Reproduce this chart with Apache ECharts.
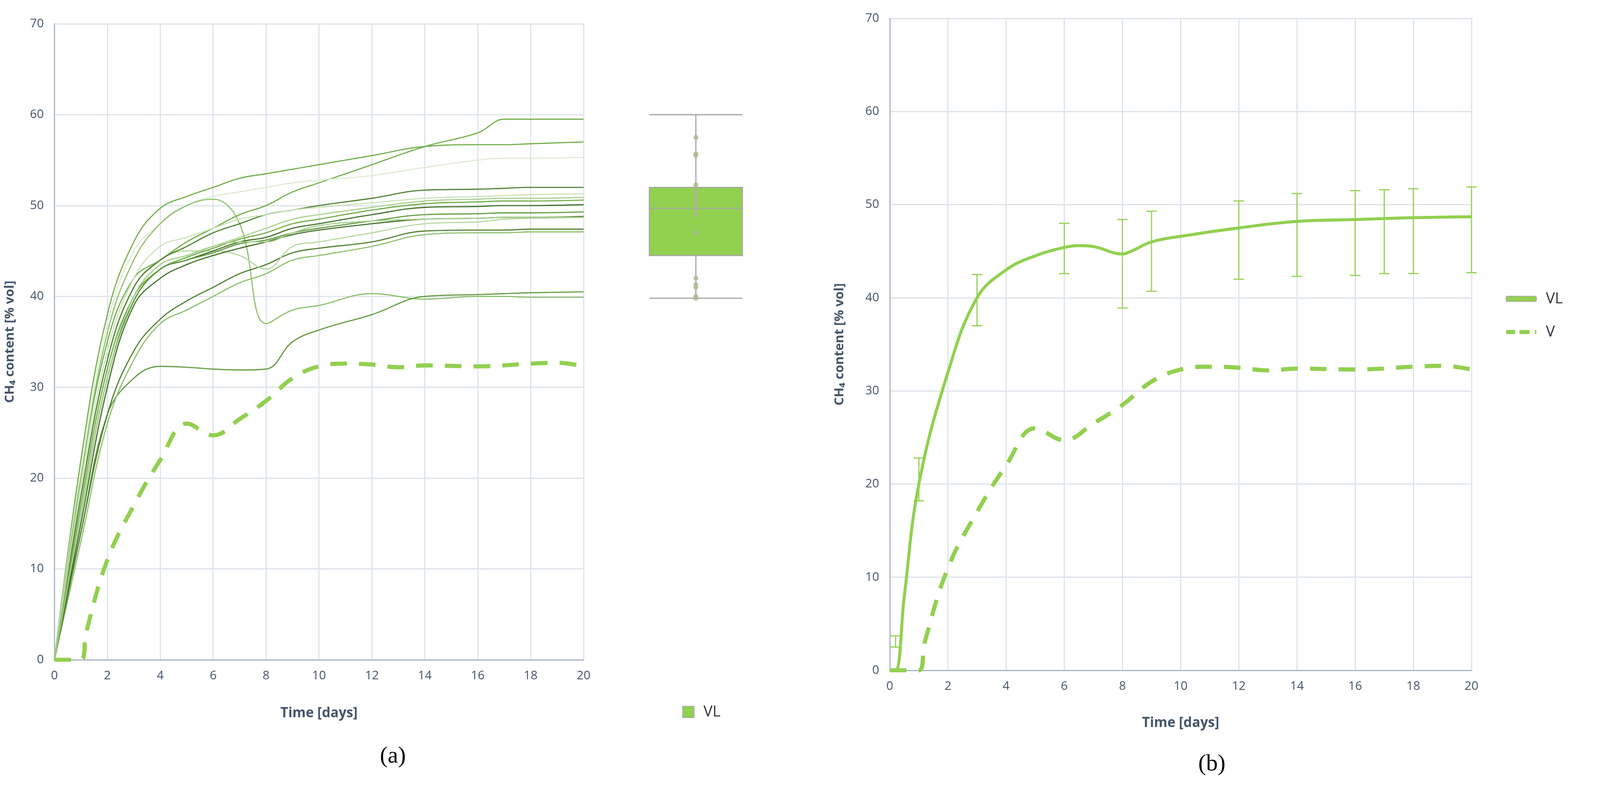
<!DOCTYPE html>
<html><head><meta charset="utf-8">
<script src="https://cdn.jsdelivr.net/npm/echarts@6/dist/echarts.min.js"></script>
<style>html,body{margin:0;padding:0;background:#fff;overflow:hidden}#c{width:100vw;height:100vh}</style>
</head><body><div id="c"></div>
<script>
const daysA = [0,1,2,3,4,5,6,7,8,9,10,12,14,16,17,18,20];
const curvesA = [
 {v:[0,20,35,42,44,46,47.5,49,50,51.5,52.5,54.5,56.5,58,59.5,59.5,59.5], c:'#70AD47'},
 {v:[0,22,38,46,49.7,51,52,53,53.5,54,54.5,55.5,56.5,56.7,56.7,56.8,57], c:'#70AD47'},
 {v:[0,21,37,45,48,50,51,51.5,52,52.5,52.8,53.3,54.2,55,55.2,55.2,55.3], c:'#DDEBD3'},
 {v:[0,20,36,44,48,50,50.7,48,37,38.5,39,40.3,39.7,40,40,39.9,39.9], c:'#8DBF6A'},
 {v:[0,14,27,31,32.3,32.2,32,31.9,32,35,36.3,38,40,40.2,40.3,40.4,40.5], c:'#5E9A3A'},
 {v:[0,13,26,33,37,38.5,40,41.5,42.5,44,44.5,45.5,46.8,47,47,47.1,47.1], c:'#8DBF6A'},
 {v:[0,14,27,34,37.5,39.5,41,42.5,43.5,44.8,45.3,46,47.2,47.3,47.3,47.4,47.4], c:'#4E7F2E'},
 {v:[0,18,33,41,44,45,45,44.5,43,45.5,46,47,48,48.2,48.5,48.6,48.7], c:'#B5D8A0'},
 {v:[0,18,33,41,44,45.5,47,48,49,49.5,50,50.8,51.7,51.8,51.9,52,52], c:'#4E7F2E'},
 {v:[0,19,34,42,45.5,46.5,47.5,48.5,49,49.5,49.8,50.3,50.8,51,51.1,51.2,51.3], c:'#C9E3BA'},
 {v:[0,17,32,40,43.5,44.5,45.5,46.5,47.5,48.5,49,49.8,50.5,50.7,50.8,50.8,50.9], c:'#A9D18E'},
 {v:[0,17,32,40,43,44.3,45.3,46.3,47,48,48.5,49.5,50.2,50.4,50.5,50.5,50.6], c:'#70AD47'},
 {v:[0,16,31,39.5,43,44,45,46,46.5,47.5,48,49,49.8,49.9,50,50,50.1], c:'#3F6F25'},
 {v:[0,16,31,39.5,43,44,44.8,45.8,46.2,47,47.5,48.3,49,49.1,49.2,49.2,49.3], c:'#5E9A3A'},
 {v:[0,15,30,39,42,43.5,44.5,45.3,46,46.8,47.3,48,48.5,48.6,48.7,48.7,48.8], c:'#3F6F25'},
 {v:[0,16,31,40,43.5,44.5,45.5,46,46,47,47.8,48.3,48.5,48.6,48.7,48.7,48.7], c:'#A9D18E'}
];
const daysV = [0,1,1.2,2,3,4,5,6,7,8,9,10,11,12,13,14,16,18,19,20];
const valsV = [0,0,3,11,17,22,26,24.7,26.5,28.5,31,32.3,32.6,32.5,32.2,32.4,32.3,32.6,32.7,32.3];
const daysVL = [0,0.2,0.5,1,2,3,4,5,6,6.5,7,8,8.3,9,10,12,14,16,18,20];
const valsVL = [0,0,8,20,32,40,43,44.5,45.4,45.6,45.5,44.7,45,46,46.6,47.5,48.2,48.4,48.6,48.7];
const errX = [0.2,1,3,6,8,9,12,14,16,17,18,20];
const errLo = [2.5,18.2,37,42.6,38.9,40.7,42,42.3,42.4,42.6,42.6,42.7];
const errHi = [3.7,22.8,42.5,48,48.4,49.3,50.4,51.2,51.5,51.6,51.7,51.9];
const boxStats = [39.8,44.5,49.7,52,60];
const boxDots = [57.5,55.7,55.5,52.3,52,51.5,51,50.5,50,49.5,49,47,42,41.3,41,40,39.8];

const el=document.getElementById('c');
const W=el.clientWidth||4233, H=el.clientHeight||2016;
const sx=W/4233, sy=H/2016, sf=Math.min(sx,sy);
const X=v=>v*sx, Y=v=>v*sy, F=v=>v*sf;

const txt='#44546A', gridC='#DDE3EA', axC='#A8B4C4', green='#92D050';
function xAx(gi,gap){return {type:'value',gridIndex:gi,min:0,max:20,interval:2,name:'Time [days]',nameLocation:'middle',nameGap:Y(gap),
 nameTextStyle:{color:txt,fontSize:F(36),fontWeight:'bold',fontFamily:'Open Sans'},
 axisLine:{lineStyle:{color:axC,width:F(3)}},axisTick:{show:false},
 axisLabel:{color:txt,fontSize:F(32),margin:Y(26),fontFamily:'Open Sans'},splitLine:{show:true,lineStyle:{color:gridC,width:F(3)}}};}
function yAx(gi,gap){return {type:'value',gridIndex:gi,min:0,max:70,interval:10,name:'CH₄ content [% vol]',nameLocation:'middle',nameGap:X(gap),
 nameTextStyle:{color:txt,fontSize:F(34),fontWeight:'bold',fontFamily:'Open Sans'},
 axisLine:{show:true,lineStyle:{color:axC,width:F(3)}},axisTick:{show:false},
 axisLabel:{color:txt,fontSize:F(32),margin:X(28),fontFamily:'Open Sans'},splitLine:{lineStyle:{color:gridC,width:F(3)}}};}

const dash=[F(44),F(32)];
const series=[];
curvesA.forEach((c,i)=>series.push({type:'line',name:'c'+i,xAxisIndex:0,yAxisIndex:0,smooth:0.4,symbol:'none',
 lineStyle:{color:c.c,width:F(3)},data:daysA.map((d,j)=>[d,c.v[j]])}));
series.push({type:'line',name:'Va',xAxisIndex:0,yAxisIndex:0,smooth:0.4,symbol:'none',
 lineStyle:{color:green,width:F(11),type:dash},data:daysV.map((d,j)=>[d,valsV[j]])});
series.push({type:'boxplot',name:'VL',xAxisIndex:1,yAxisIndex:1,boxWidth:[X(246),X(246)],
 itemStyle:{color:green,borderColor:'#A6A6A6',borderWidth:F(3)},data:[boxStats]});
series.push({type:'scatter',name:'dots',xAxisIndex:1,yAxisIndex:1,symbolSize:F(13),itemStyle:{color:'#A9B98E'},
 data:boxDots.map(v=>[0,v])});
series.push({type:'line',name:'VL',xAxisIndex:2,yAxisIndex:2,smooth:0.4,symbol:'none',
 lineStyle:{color:green,width:F(8)},itemStyle:{color:green},data:daysVL.map((d,j)=>[d,valsVL[j]])});
series.push({type:'line',name:'V',xAxisIndex:2,yAxisIndex:2,smooth:0.4,symbol:'none',
 lineStyle:{color:green,width:F(11),type:dash},itemStyle:{color:green},data:daysV.map((d,j)=>[d,valsV[j]])});
series.push({type:'custom',name:'err',xAxisIndex:2,yAxisIndex:2,
 data:errX.map((x,i)=>[x,errLo[i],errHi[i]]),
 renderItem:(p,api)=>{const lo=api.coord([api.value(0),api.value(1)]),hi=api.coord([api.value(0),api.value(2)]);const w=X(14);
  const st={stroke:green,lineWidth:F(3)};
  return {type:'group',children:[
   {type:'line',shape:{x1:lo[0],y1:lo[1],x2:hi[0],y2:hi[1]},style:st},
   {type:'line',shape:{x1:lo[0]-w,y1:lo[1],x2:lo[0]+w,y2:lo[1]},style:st},
   {type:'line',shape:{x1:hi[0]-w,y1:hi[1],x2:hi[0]+w,y2:hi[1]},style:st}]};}});

const chart=echarts.init(el);
chart.setOption({animation:false,backgroundColor:'#fff',
 grid:[{left:X(144),top:Y(61),width:X(1400),height:Y(1627)},{left:X(1641),top:Y(61),width:X(400),height:Y(1627)},{left:X(2354),top:Y(47),width:X(1539),height:Y(1668)}],
 xAxis:[xAx(0,120),{type:'category',gridIndex:1,data:['VL'],show:false},xAx(2,118)],
 yAxis:[yAx(0,100),{type:'value',gridIndex:1,min:0,max:70,show:false},yAx(2,115)],
 legend:[
  {left:X(1800),top:Y(1797),itemWidth:F(30),itemHeight:F(30),textStyle:{fontSize:F(40),color:'#333',fontFamily:'Open Sans',padding:[0,0,0,F(20)]},
   data:[{name:'VL',icon:'rect',itemStyle:{color:green,borderColor:'#A6A6A6',borderWidth:F(2)}}]},
  {left:X(3974),top:Y(740),orient:'vertical',itemGap:Y(46),itemWidth:X(80),itemHeight:F(14),textStyle:{fontSize:F(40),color:'#333',fontFamily:'Open Sans',padding:[0,0,0,F(20)]},
   data:[{name:'VL',lineStyle:{color:green,width:F(8),type:'solid'},itemStyle:{color:green}},{name:'V',lineStyle:{color:green,width:F(11),type:[F(24),F(14)]},itemStyle:{color:green}}]}
 ],
 graphic:[
  {type:'text',left:X(1005),top:Y(1905),style:{text:'(a)',fontSize:F(62),fontFamily:'Liberation Serif',fill:'#000'}},
  {type:'text',left:X(3170),top:Y(1925),style:{text:'(b)',fontSize:F(62),fontFamily:'Liberation Serif',fill:'#000'}}
 ],
 series});
</script></body></html>
